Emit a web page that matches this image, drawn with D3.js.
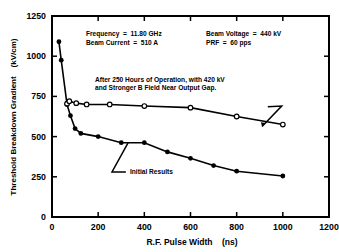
<!DOCTYPE html>
<head>
  <meta charset="utf-8">
  <script src="https://d3js.org/d3.v7.min.js"></script>
  <style>
    body { margin:0; background:#fff; }
    svg { font-family: "Liberation Sans", Arial, sans-serif; font-weight: bold; }
    text { white-space: pre; }
  </style>
</head>
<body>
  <svg width="339" height="252"></svg>
  <script>
    // initial results (filled points)
    var initialX = [30, 40, 65, 80, 100, 125, 200, 300, 400, 500, 600, 700, 800, 1000];
    var initialY = [1090, 975, 700, 630, 550, 520, 500, 462, 462, 405, 365, 320, 285, 255];
    // after 250 hours (open points)
    var afterX = [65, 75, 105, 150, 250, 400, 600, 800, 1000];
    var afterY = [705, 720, 708, 700, 700, 690, 680, 625, 575];
    var xTicks = [0, 200, 400, 600, 800, 1000, 1200];
    var yTicks = [0, 250, 500, 750, 1000, 1250];

    var svg = d3.select('svg');
    var x = d3.scaleLinear().domain([0, 1200]).range([52, 329]);
    var y = d3.scaleLinear().domain([0, 1250]).range([217, 16]);

    var initial = initialX.map((d, i) => ({x: d, y: initialY[i]}));
    var after = afterX.map((d, i) => ({x: d, y: afterY[i]}));

    // frame
    svg.append('rect')
      .attr('x', x(0)).attr('y', y(1250))
      .attr('width', x(1200) - x(0)).attr('height', y(0) - y(1250))
      .attr('fill', 'none').attr('stroke', '#000').attr('stroke-width', 2);

    // inside ticks on all four sides
    var tickLen = 5;
    var innerX = xTicks.slice(1, -1), innerY = yTicks.slice(1, -1);
    svg.selectAll('.tb').data(innerX).enter().append('line')
      .attr('x1', d => x(d)).attr('x2', d => x(d))
      .attr('y1', y(0)).attr('y2', y(0) - tickLen)
      .attr('stroke', '#000').attr('stroke-width', 1.5);
    svg.selectAll('.tt').data(innerX).enter().append('line')
      .attr('x1', d => x(d)).attr('x2', d => x(d))
      .attr('y1', y(1250)).attr('y2', y(1250) + tickLen)
      .attr('stroke', '#000').attr('stroke-width', 1.5);
    svg.selectAll('.tl').data(innerY).enter().append('line')
      .attr('y1', d => y(d)).attr('y2', d => y(d))
      .attr('x1', x(0)).attr('x2', x(0) + tickLen)
      .attr('stroke', '#000').attr('stroke-width', 1.5);
    svg.selectAll('.tr').data(innerY).enter().append('line')
      .attr('y1', d => y(d)).attr('y2', d => y(d))
      .attr('x1', x(1200)).attr('x2', x(1200) - tickLen)
      .attr('stroke', '#000').attr('stroke-width', 1.5);

    // tick labels
    svg.selectAll('.xl').data(xTicks).enter().append('text')
      .attr('x', d => x(d)).attr('y', 230)
      .attr('text-anchor', 'middle').attr('font-size', 8.8)
      .text(d => d);
    svg.selectAll('.yl').data(yTicks).enter().append('text')
      .attr('x', 46).attr('y', d => y(d) + 3)
      .attr('text-anchor', 'end').attr('font-size', 8.8)
      .text(d => d);

    // axis titles
    svg.append('text')
      .attr('x', 192).attr('y', 245).attr('text-anchor', 'middle')
      .attr('font-size', 8.5)
      .text('R.F. Pulse Width    (ns)');
    svg.append('text')
      .attr('transform', 'translate(16,117) rotate(-90)')
      .attr('text-anchor', 'middle').attr('font-size', 8)
      .text('Threshold Breakdown Gradient    (kV/cm)');

    // lines
    var line = d3.line().x(d => x(d.x)).y(d => y(d.y));
    svg.append('path').attr('d', line(initial))
      .attr('fill', 'none').attr('stroke', '#000').attr('stroke-width', 1.6);
    svg.append('path').attr('d', line(after))
      .attr('fill', 'none').attr('stroke', '#000').attr('stroke-width', 1.6);

    svg.selectAll('.pi').data(initial).enter().append('circle')
      .attr('cx', d => x(d.x)).attr('cy', d => y(d.y)).attr('r', 2.4)
      .attr('fill', '#000');
    svg.selectAll('.pa').data(after).enter().append('circle')
      .attr('cx', d => x(d.x)).attr('cy', d => y(d.y)).attr('r', 2.3)
      .attr('fill', '#fff').attr('stroke', '#000').attr('stroke-width', 1.2);

    // parameter text
    var t = svg.append('g').attr('font-size', 6.6);
    t.append('text').attr('x', 86).attr('y', 36).text('Frequency  =  11.80 GHz');
    t.append('text').attr('x', 86).attr('y', 45).text('Beam Current  =  510 A');
    t.append('text').attr('x', 206).attr('y', 36).text('Beam Voltage  =  440 kV');
    t.append('text').attr('x', 206).attr('y', 45).text('PRF  =  60 pps');

    // annotations
    t.append('text').attr('x', 95).attr('y', 82)
      .text('After 250 Hours of Operation, with 420 kV');
    t.append('text').attr('x', 95).attr('y', 90)
      .text('and Stronger B Field Near Output Gap.');
    t.append('text').attr('x', 130).attr('y', 174)
      .text('Initial Results');

    var leaderAfter = [[935, 685], [995, 690], [910, 563]];
    var leaderInit = [[330, 462], [260, 280], [320, 280]];
    var lp = d3.line().x(d => x(d[0])).y(d => y(d[1]));
    svg.append('path').attr('d', lp(leaderAfter))
      .attr('fill', 'none').attr('stroke', '#000').attr('stroke-width', 1.5);
    svg.append('path').attr('d', lp(leaderInit))
      .attr('fill', 'none').attr('stroke', '#000').attr('stroke-width', 1.5);
    // arrowhead on upper leader
    var ah = [[905, 590], [910, 563], [925, 585]];
    svg.append('path').attr('d', lp(ah) + 'Z').attr('fill', '#000');
  </script>
</body>
